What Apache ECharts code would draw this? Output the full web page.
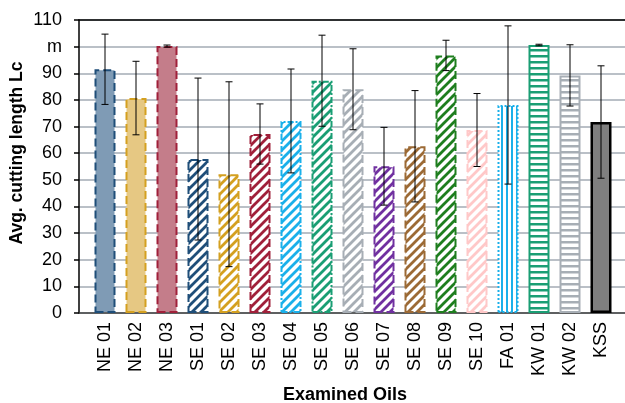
<!DOCTYPE html>
<html><head><meta charset="utf-8">
<script src="https://cdn.jsdelivr.net/npm/echarts@6/dist/echarts.min.js"></script>
<style>html,body{margin:0;padding:0;background:#fff}#c{width:625px;height:403px}</style>
</head><body><div id="c"></div>
<script>
const categories = ['NE 01','NE 02','NE 03','SE 01','SE 02','SE 03','SE 04','SE 05','SE 06','SE 07','SE 08','SE 09','SE 10','FA 01','KW 01','KW 02','KSS'];
const meanValues = [91.5, 80.7, 100.2, 57.8, 52.1, 67.2, 72.1, 87.2, 84.0, 55.1, 62.6, 96.7, 68.7, 78.1, 100.6, 89.2, 71.7];
const errorValues = [13.2, 13.8, 0.4, 30.4, 34.7, 11.3, 19.5, 17.1, 15.2, 14.6, 20.9, 5.7, 13.7, 29.7, 0.3, 11.5, 21.1];
const yTickLabels = ['0','10','20','30','40','50','60','70','80','90','m','110'];

function pattern(kind, color) {
  const s = kind === 'diag' ? 9 : (kind === 'vert' ? 5 : 6);
  const c = document.createElement('canvas');
  c.width = s; c.height = s;
  const g = c.getContext('2d');
  g.fillStyle = '#fff'; g.fillRect(0, 0, s, s);
  g.strokeStyle = color; g.fillStyle = color;
  if (kind === 'diag') {
    g.lineWidth = 2.8;
    g.beginPath();
    g.moveTo(-2, 2); g.lineTo(2, -2);
    g.moveTo(0, s); g.lineTo(s, 0);
    g.moveTo(s - 2, s + 2); g.lineTo(s + 2, s - 2);
    g.stroke();
  } else if (kind === 'vert') {
    g.fillRect(1, 0, 2, s);
  } else {
    g.fillRect(0, 1, s, 2.5);
  }
  return { image: c, repeat: 'repeat' };
}

const styles = [
  { fill: '#7f9bb5', border: '#1f4e79', type: 'dashed' },
  { fill: '#e6c883', border: '#d4a020', type: 'dashed' },
  { fill: '#c47d8a', border: '#a0203a', type: 'dashed' },
  { pat: 'diag', col: '#1f4e79', type: 'dashed' },
  { pat: 'diag', col: '#d4a020', type: 'dashed' },
  { pat: 'diag', col: '#a0203a', type: 'dashed' },
  { pat: 'diag', col: '#1ab0ea', type: [6, 2, 2, 2] },
  { pat: 'diag', col: '#1a9e74', type: [6, 2, 2, 2] },
  { pat: 'diag', col: '#a7aeb5', type: 'dashed' },
  { pat: 'diag', col: '#7030a0', type: 'dashed' },
  { pat: 'diag', col: '#9c6a35', type: 'dashed' },
  { pat: 'diag', col: '#1e7e1e', type: 'dashed' },
  { pat: 'diag', col: '#ffc8c8', type: 'dashed' },
  { pat: 'vert', col: '#1ab0ea', type: 'dotted' },
  { pat: 'horiz', col: '#1a9e74', type: 'solid' },
  { pat: 'horiz', col: '#a7aeb5', type: 'solid' },
  { fill: '#7f7f7f', border: '#000000', type: 'solid', bw: 2.5 }
];

const barData = meanValues.map((v, i) => {
  const st = styles[i];
  return {
    value: v,
    itemStyle: {
      color: st.pat ? pattern(st.pat, st.col) : st.fill,
      borderColor: st.border || st.col,
      borderWidth: st.bw || 2,
      borderType: st.type
    }
  };
});

const errData = meanValues.map((v, i) => [i, v - errorValues[i], v + errorValues[i]]);

const chart = echarts.init(document.getElementById('c'), null, { renderer: 'canvas' });
const font = 'Liberation Sans, Arial, sans-serif';
chart.setOption({
  animation: false,
  grid: [
    { left: 89.5, right: 8.5, top: 20, bottom: 90 },
    { left: 79, right: 0, top: 20, bottom: 90 }
  ],
  xAxis: [
    { type: 'category', data: categories, gridIndex: 0,
      axisLine: { show: false }, axisTick: { show: false },
      axisLabel: { rotate: 90, fontSize: 18, color: '#000', fontFamily: font, margin: 9, interval: 0 } },
    { type: 'value', gridIndex: 1, position: 'bottom', min: 0, max: 1,
      axisLine: { show: true, lineStyle: { color: '#404040', width: 1.5 } },
      axisTick: { show: false }, axisLabel: { show: false }, splitLine: { show: false } },
    { type: 'value', gridIndex: 1, position: 'top', min: 0, max: 1,
      axisLine: { show: true, lineStyle: { color: '#000', width: 1.5 } },
      axisTick: { show: false }, axisLabel: { show: false }, splitLine: { show: false } }
  ],
  yAxis: [
    { type: 'value', gridIndex: 0, min: 0, max: 110, interval: 10, show: false, splitLine: { show: false } },
    { type: 'value', gridIndex: 1, min: 0, max: 110, interval: 10,
      axisLine: { show: true, lineStyle: { color: '#000', width: 1.5 } },
      axisTick: { show: true, inside: false, length: 5, lineStyle: { color: '#000', width: 1.5 } },
      axisLabel: { fontSize: 18, color: '#000', fontFamily: font, margin: 17,
        formatter: (v) => yTickLabels[Math.round(v / 10)] },
      splitLine: { show: true, lineStyle: { color: '#a3abb5', width: 1.5 } } }
  ],
  series: [
    { type: 'bar', xAxisIndex: 0, yAxisIndex: 0, data: barData, barWidth: 21, z: 2 },
    { type: 'custom', xAxisIndex: 0, yAxisIndex: 0, data: errData, z: 5,
      renderItem: function (params, api) {
        const lo = api.coord([api.value(0), api.value(1)]);
        const hi = api.coord([api.value(0), api.value(2)]);
        const w = 3.5;
        const st = { stroke: '#000', lineWidth: 1 };
        return { type: 'group', children: [
          { type: 'line', shape: { x1: lo[0], y1: lo[1], x2: hi[0], y2: hi[1] }, style: st },
          { type: 'line', shape: { x1: lo[0] - w, y1: lo[1], x2: lo[0] + w, y2: lo[1] }, style: st },
          { type: 'line', shape: { x1: hi[0] - w, y1: hi[1], x2: hi[0] + w, y2: hi[1] }, style: st }
        ] };
      } }
  ],
  graphic: [
    { type: 'text', x: 17, y: 153, rotation: Math.PI / 2,
      style: { text: 'Avg. cutting length Lc', font: 'bold 17.5px ' + font, fill: '#000', textAlign: 'center', textVerticalAlign: 'middle' } },
    { type: 'text', x: 345, y: 395,
      style: { text: 'Examined Oils', font: 'bold 18px ' + font, fill: '#000', textAlign: 'center', textVerticalAlign: 'middle' } }
  ]
});
</script></body></html>
